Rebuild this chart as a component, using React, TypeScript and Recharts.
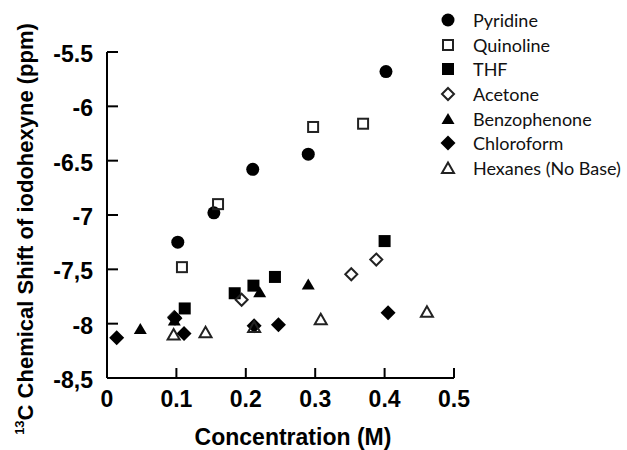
import { ScatterChart, Scatter, XAxis, YAxis, Legend } from 'recharts'

const X_TICKS = [0, 0.1, 0.2, 0.3, 0.4, 0.5]
const Y_TICKS = [-8.5, -8, -7.5, -7, -6.5, -6, -5.5]
const Y_TICK_LABELS = ['-8,5', '-8', '-7,5', '-7', '-6.5', '-6', '-5.5']

const SERIES_NAMES = ['Pyridine', 'Quinoline', 'THF', 'Acetone', 'Benzophenone', 'Chloroform', 'Hexanes (No Base)']

// [concentration, shift]
const PYRIDINE = [[0.102, -7.25], [0.154, -6.98], [0.21, -6.58], [0.29, -6.44], [0.402, -5.68]]
const QUINOLINE = [[0.108, -7.48], [0.16, -6.9], [0.297, -6.19], [0.369, -6.16]]
const THF = [[0.112, -7.86], [0.184, -7.72], [0.211, -7.65], [0.242, -7.57], [0.4, -7.24]]
const ACETONE = [[0.097, -7.94], [0.194, -7.78], [0.352, -7.545], [0.388, -7.41]]
const BENZOPHENONE = [[0.048, -8.05], [0.097, -7.97], [0.22, -7.71], [0.29, -7.64]]
const CHLOROFORM = [[0.014, -8.13], [0.098, -7.95], [0.111, -8.09], [0.212, -8.02], [0.247, -8.01], [0.405, -7.9]]
const HEXANES = [[0.096, -8.1], [0.142, -8.08], [0.212, -8.03], [0.308, -7.96], [0.461, -7.89]]

const KINDS = ['circle', 'squareOpen', 'square', 'diamondOpen', 'triangle', 'diamond', 'triangleOpen']
const SERIES_DATA = [PYRIDINE, QUINOLINE, THF, ACETONE, BENZOPHENONE, CHLOROFORM, HEXANES]

const FONT = 'Liberation Sans, Arial, sans-serif'

const toPoints = (arr: number[][]) => arr.map(([x, y]) => ({ x, y }))

function Marker({ cx, cy, kind }: { cx: number; cy: number; kind: string }) {
  const ink = '#000'
  switch (kind) {
    case 'circle':
      return <circle cx={cx} cy={cy} r={6.5} fill={ink} />
    case 'squareOpen':
      return <rect x={cx - 5} y={cy - 5} width={10} height={10} fill="none" stroke="#222" strokeWidth={2} />
    case 'square':
      return <rect x={cx - 6} y={cy - 6} width={12} height={12} fill={ink} />
    case 'diamondOpen':
      return (
        <polygon
          points={`${cx},${cy - 6} ${cx + 6},${cy} ${cx},${cy + 6} ${cx - 6},${cy}`}
          fill="none"
          stroke="#222"
          strokeWidth={2}
        />
      )
    case 'triangle':
      return <polygon points={`${cx},${cy - 6} ${cx + 6.5},${cy + 5} ${cx - 6.5},${cy + 5}`} fill={ink} />
    case 'diamond':
      return <polygon points={`${cx},${cy - 7.5} ${cx + 7.5},${cy} ${cx},${cy + 7.5} ${cx - 7.5},${cy}`} fill={ink} />
    case 'triangleOpen':
      return (
        <polygon
          points={`${cx},${cy - 5.5} ${cx + 6},${cy + 5} ${cx - 6},${cy + 5}`}
          fill="none"
          stroke="#222"
          strokeWidth={2}
        />
      )
    default:
      return null
  }
}

const makeShape = (kind: string) => (props: any) => <Marker cx={props.cx} cy={props.cy} kind={kind} />

function LegendBox() {
  return (
    <div style={{ fontFamily: 'Lato, sans-serif', fontSize: 18, color: '#111' }}>
      {SERIES_NAMES.map((name, i) => (
        <div key={name} style={{ display: 'flex', alignItems: 'center', height: 24.7 }}>
          <svg width={20} height={20} style={{ marginRight: 15 }}>
            <Marker cx={10} cy={10} kind={KINDS[i]} />
          </svg>
          <span style={{ whiteSpace: 'nowrap' }}>{name}</span>
        </div>
      ))}
    </div>
  )
}

function XTick({ x, y, payload }: any) {
  return (
    <text x={x} y={y + 16} textAnchor="middle" fontFamily={FONT} fontWeight={700} fontSize={23} fill="#000">
      {String(payload.value)}
    </text>
  )
}

function YTick({ x, y, payload }: any) {
  const label = Y_TICK_LABELS[Y_TICKS.indexOf(payload.value)] ?? String(payload.value)
  return (
    <text x={x} y={y + 10} textAnchor="end" fontFamily={FONT} fontWeight={700} fontSize={23} fill="#000">
      {label}
    </text>
  )
}

function YTitle() {
  return (
    <text
      x={33}
      y={229}
      transform="rotate(-90, 33, 229)"
      textAnchor="middle"
      fontFamily={FONT}
      fontWeight={700}
      fontSize={22}
      fill="#000"
    >
      <tspan fontSize={13} dy={-9}>13</tspan>
      <tspan dy={9}>C Chemical Shift of iodohexyne (ppm)</tspan>
    </text>
  )
}

function XTitle() {
  return (
    <text x={293} y={445} textAnchor="middle" fontFamily={FONT} fontWeight={700} fontSize={23} fill="#000">
      Concentration (M)
    </text>
  )
}

export default function App() {
  return (
    <div style={{ position: 'absolute', left: 0, top: 0, background: '#fff' }}>
      <ScatterChart width={627} height={450} margin={{ top: 52, right: 173, bottom: 0, left: 0 }}>
        <XAxis
          type="number"
          dataKey="x"
          domain={[0, 0.5]}
          ticks={X_TICKS}
          height={72}
          tick={<XTick />}
          tickSize={-10}
          tickMargin={23}
          axisLine={{ stroke: '#000', strokeWidth: 2 }}
          tickLine={{ stroke: '#000', strokeWidth: 2 }}
          label={<XTitle />}
        />
        <YAxis
          type="number"
          dataKey="y"
          domain={[-8.5, -5.5]}
          ticks={Y_TICKS}
          width={107}
          tick={<YTick />}
          tickSize={-11}
          tickMargin={25}
          axisLine={{ stroke: '#000', strokeWidth: 2 }}
          tickLine={{ stroke: '#000', strokeWidth: 2 }}
          label={<YTitle />}
        />
        <Legend
          layout="vertical"
          align="center"
          verticalAlign="middle"
          wrapperStyle={{ left: 438, top: 7.6, width: 190 }}
          content={() => <LegendBox />}
        />
        {SERIES_NAMES.map((name, i) => (
          <Scatter
            key={name}
            name={name}
            data={toPoints(SERIES_DATA[i])}
            shape={makeShape(KINDS[i])}
            isAnimationActive={false}
          />
        ))}
      </ScatterChart>
    </div>
  )
}
